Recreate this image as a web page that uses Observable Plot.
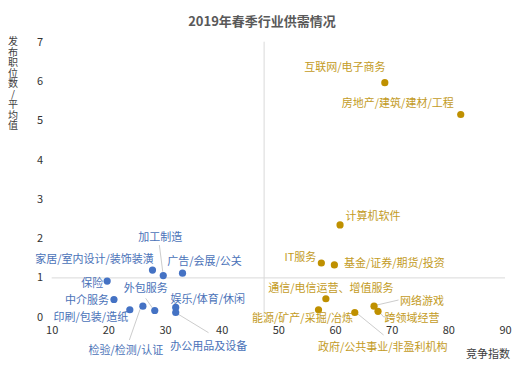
<!DOCTYPE html>
<html><head><meta charset="utf-8">
<script src="https://cdn.jsdelivr.net/npm/d3@7"></script>
<script src="https://cdn.jsdelivr.net/npm/@observablehq/plot@0.6"></script>
<style>
body{margin:0;background:#fff;font-family:"Noto Sans CJK SC",sans-serif}
#wrap{position:relative;width:524px;height:376px;overflow:hidden}
#title{position:absolute;left:0;width:524px;top:12px;text-align:center;font-size:13px;font-weight:bold;color:#595959;line-height:18px}
#ylab{position:absolute;left:8px;top:36px;width:10px;font-size:10px;color:#404040;line-height:10.5px;text-align:center;word-break:break-all;overflow-wrap:anywhere}
#xlab{position:absolute;left:466px;top:346px;font-size:11px;color:#404040;line-height:14px}
#chart{position:absolute;left:0;top:0}
</style></head>
<body>
<div id="wrap">
<div id="chart"></div>
<div id="title">2019年春季行业供需情况</div>
<div id="ylab"></div>
<div id="xlab">竞争指数</div>
</div>
<script>
// ---- data ----
const industries = [
  "家居/室内设计/装饰装潢","加工制造","广告/会展/公关","保险","中介服务",
  "印刷/包装/造纸","检验/检测/认证","外包服务","娱乐/体育/休闲","办公用品及设备",
  "互联网/电子商务","房地产/建筑/建材/工程","计算机软件","IT服务","基金/证券/期货/投资",
  "通信/电信运营、增值服务","能源/矿产/采掘/冶炼","政府/公共事业/非盈利机构","网络游戏","跨领域经营"
];
const competitionIndex = [27.7,29.6,33.0,19.7,20.9,23.7,26.0,28.1,31.8,31.8,68.7,82.1,60.8,57.5,59.8,58.3,57.0,63.4,66.8,67.5];
const jobsAvg = [1.20,1.06,1.12,0.92,0.45,0.19,0.28,0.17,0.25,0.12,5.97,5.16,2.35,1.38,1.33,0.47,0.19,0.12,0.28,0.15];
const xTicks = [10,20,30,40,50,60,70,80,90];
const yTicks = [0,1,2,3,4,5,6,7];
const avgCompetition = 47.4;
const avgJobs = 1;
const yTitle = "发布职位数/平均值";

// ---- layout (label offsets in px, relative to each point) ----
const labelOffsets = [
  [-58,-11],[-3,-38],[22,-12],[-15,2],[-27,1],
  [-39,8],[-17,44],[-9,-22],[32,-8],[33,34],
  [-40,-15],[-63,-11],[33,-8],[-21,-6],[60,-1],
  [5,-10],[-16,9],[28,35],[48,-5],[34,7]
];
const leaders = {
  1: [[-3.4,-30],[0,-3.3]],
  7: [[-8.6,-11.7],[-1.6,-1.7]],
  6: [[-13,34.3],[-2.3,3.6]],
  9: [[1,1],[33.3,20.7]],
  17: [[2.7,1.3],[29.3,23]],
  18: [[3.4,-0.7],[25,-5.7]],
  19: [[1,0],[6,6],[9.4,6]]
};

document.getElementById("ylab").textContent = yTitle;

const blue = "#4472C4", gold = "#BF9000";
const rows = industries.map((name,i)=>({name, x:competitionIndex[i], y:jobsAvg[i], high: competitionIndex[i] > avgCompetition}));

const labelMarks = rows.map((r,i)=>Plot.text([r],{x:"x",y:"y",text:"name",dx:labelOffsets[i][0],dy:labelOffsets[i][1],
  fill: r.high ? "#C39B1E" : "#4A72B8", fontSize:11, textAnchor:"middle"}));

const chart = Plot.plot({
  width:524, height:376,
  marginLeft:51.7, marginRight:19, marginTop:41.7, marginBottom:59.3,
  style:{fontFamily:"'Noto Sans CJK SC', sans-serif", fontSize:"11px", color:"#333", background:"transparent"},
  x:{domain:[10,90], ticks:xTicks},
  y:{domain:[0,7], ticks:yTicks},
  marks:[
    Plot.ruleY([avgJobs],{x1:10,x2:90,stroke:"#D9D9D9",strokeWidth:1}),
    Plot.ruleX([avgCompetition],{y1:0,y2:7,stroke:"#D9D9D9",strokeWidth:1}),
    Plot.axisX({ticks:xTicks,tickSize:0,tickPadding:9,label:null,fill:"#333",tickFormat:d3.format("d")}),
    Plot.axisY({ticks:yTicks,tickSize:0,tickPadding:9,label:null,fill:"#333",tickFormat:d3.format("d")}),
    Plot.dot(rows,{x:"x",y:"y",r:3.6,fill:d=>d.high?gold:blue,stroke:"none"}),
    ...labelMarks
  ]
});
document.getElementById("chart").appendChild(chart);

// leader lines
const sx = chart.scale("x"), sy = chart.scale("y");
const svg = d3.select(chart);
const g = svg.insert("g", ":first-child").attr("fill","none").attr("stroke","#BFBFBF").attr("stroke-width",0.8);
Object.entries(leaders).forEach(([k,pts])=>{
  const r = rows[+k];
  const px = sx.apply(r.x), py = sy.apply(r.y);
  g.append("path").attr("d", d3.line()(pts.map(([dx,dy])=>[px+dx,py+dy])));
});
</script>
</body></html>
